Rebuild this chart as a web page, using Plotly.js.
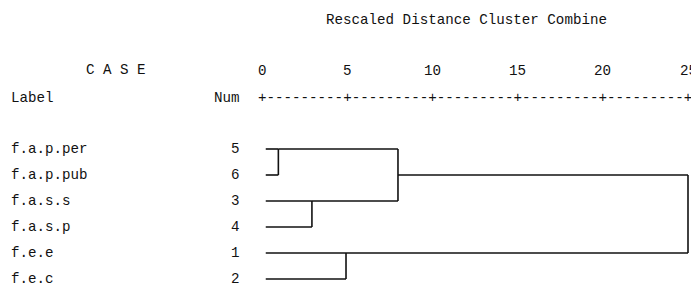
<!DOCTYPE html>
<html>
<head>
<meta charset="utf-8">
<script src="https://cdn.plot.ly/plotly-3.0.1.min.js"></script>
<style>html,body{margin:0;padding:0;background:#fff;}#chart{width:691px;height:287px;}</style>
</head>
<body>
<div id="chart"></div>
<script>
// ---- data ----
const caseLabels = ['f.a.p.per', 'f.a.p.pub', 'f.a.s.s', 'f.a.s.p', 'f.e.e', 'f.e.c'];
const caseNums = [5, 6, 3, 4, 1, 2];
// merges: clusters identified by their first row index
const mergeA = [0, 2, 4, 0, 0];
const mergeB = [1, 3, 5, 2, 4];
const mergeDist = [0.96, 2.93, 4.93, 7.98, 25];
const tickVals = [0, 5, 10, 15, 20, 25];
const tickText = ['0', '5', '10', '15', '20', '25'];
const rulerText = '+---------+---------+---------+---------+---------+';
const titleText = 'Rescaled Distance Cluster Combine';

// ---- geometry ----
const W = 691, H = 287;
const x0px = 262, pxPerUnit = 17.04;
const row0px = 149, rowStep = 26;
const leafStart = 0.22;
const FONT = {family: 'Liberation Mono, Courier New, monospace', size: 14.2, color: '#111'};

const clusters = {};
caseLabels.forEach((_, i) => { clusters[i] = {y: i, x: leafStart}; });
const xs = [], ys = [];
function seg(xa, ya, xb, yb) { xs.push(xa, xb, null); ys.push(ya, yb, null); }
for (let k = 0; k < mergeDist.length; k++) {
  const a = clusters[mergeA[k]], b = clusters[mergeB[k]], d = mergeDist[k];
  seg(a.x, a.y, d, a.y);
  seg(b.x, b.y, d, b.y);
  seg(d, a.y, d, b.y);
  clusters[mergeA[k]] = {y: Math.floor((a.y + b.y) / 2), x: d};
  delete clusters[mergeB[k]];
}

const traces = [{
  x: xs, y: ys, type: 'scatter', mode: 'lines',
  line: {color: '#111', width: 1.6, shape: 'linear'},
  hoverinfo: 'skip', showlegend: false, connectgaps: false
}];

const py = p => 1 - p / H;
const ann = [];
ann.push({xref: 'paper', yref: 'paper', x: 467 / W, y: py(20), text: titleText, showarrow: false, xanchor: 'center', yanchor: 'middle', font: FONT});
ann.push({xref: 'paper', yref: 'paper', x: 84 / W, y: py(70), text: 'C A S E', showarrow: false, xanchor: 'left', yanchor: 'middle', font: FONT});
ann.push({xref: 'paper', yref: 'paper', x: 9 / W, y: py(98), text: 'Label', showarrow: false, xanchor: 'left', yanchor: 'middle', font: FONT});
ann.push({xref: 'paper', yref: 'paper', x: 242 / W, y: py(98), text: 'Num', showarrow: false, xanchor: 'right', yanchor: 'middle', font: FONT});
ann.push({xref: 'x', yref: 'paper', x: (tickVals[0] + tickVals[tickVals.length - 1]) / 2, y: py(98), text: rulerText, showarrow: false, xanchor: 'center', yanchor: 'middle', font: FONT});
tickVals.forEach((v, i) => {
  ann.push({xref: 'x', yref: 'paper', x: v, y: py(71), text: tickText[i], showarrow: false, xanchor: 'center', yanchor: 'middle', font: FONT});
});
caseLabels.forEach((lab, i) => {
  ann.push({xref: 'paper', yref: 'y', x: 9 / W, y: i, text: lab, showarrow: false, xanchor: 'left', yanchor: 'middle', font: FONT});
  ann.push({xref: 'paper', yref: 'y', x: 242 / W, y: i, text: String(caseNums[i]), showarrow: false, xanchor: 'right', yanchor: 'middle', font: FONT});
});

const layout = {
  width: W, height: H,
  margin: {l: 0, r: 0, t: 0, b: 0, pad: 0},
  paper_bgcolor: '#fff', plot_bgcolor: '#fff',
  showlegend: false,
  xaxis: {range: [-x0px / pxPerUnit, (W - x0px) / pxPerUnit], visible: false, fixedrange: true},
  yaxis: {range: [(H - row0px) / rowStep, -row0px / rowStep], visible: false, fixedrange: true},
  annotations: ann,
  hovermode: false
};
Plotly.newPlot('chart', traces, layout, {staticPlot: true, displayModeBar: false});
</script>
</body>
</html>
